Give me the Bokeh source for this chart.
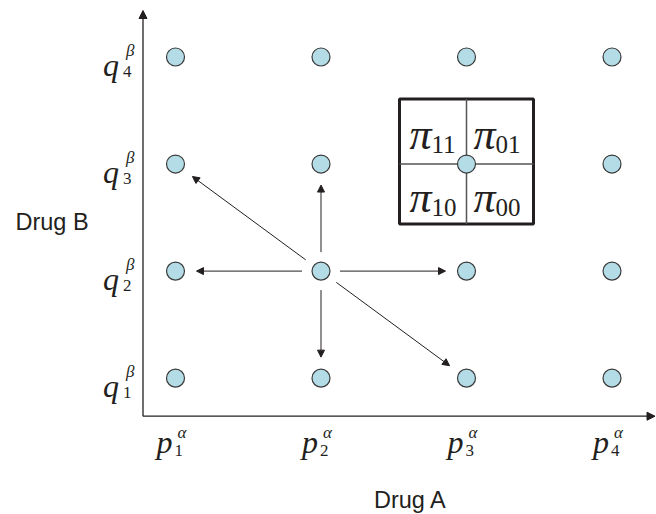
import math
from bokeh.plotting import figure
from bokeh.models import Arrow, NormalHead, Range1d, ColumnDataSource
from bokeh.core.properties import value
from bokeh.embed import file_html
from bokeh.resources import INLINE

# ---------------- data ----------------
dose_a = [1, 2, 3, 4]            # p_1^alpha ... p_4^alpha  (Drug A levels)
dose_b = [1, 2, 3, 4]            # q_1^beta  ... q_4^beta   (Drug B levels)
a_index = ["1", "2", "3", "4"]
b_index = ["1", "2", "3", "4"]
current_a, current_b = 2, 2      # current dose combination (p_2, q_2)
move_a = [1, 2, 1, 3, 2, 3]      # admissible moves from current combination
move_b = [3, 3, 2, 2, 1, 1]
box_a, box_b = 3, 3              # combination shown with its 2x2 probability table
pi_subs = ["11", "01", "10", "00"]
pi_col = [0, 1, 0, 1]
pi_row = [0, 0, 1, 1]

# ---------------- layout ----------------
W, H = 656, 514
PX_X, PX_Y = 145.5, 107.05       # pixels per grid unit
X1_PX, Y4_PX = 175.0, 56.5       # pixel position of a=1 and b=4
x0 = 1 - X1_PX / PX_X
x1 = x0 + W / PX_X
y1 = 4 + Y4_PX / PX_Y
y0 = y1 - H / PX_Y
TY = -7                          # text vertical correction (px)

INK = "#231f20"
SERIF = value("Liberation Serif")
SANS = value("Liberation Sans")

p = figure(width=W, height=H, x_range=Range1d(x0, x1), y_range=Range1d(y0, y1),
           x_axis_location=None, y_axis_location=None, toolbar_location=None,
           output_backend="svg", min_border=0, outline_line_color=None,
           background_fill_color="white", border_fill_color="white")
p.grid.visible = False

# axis origin (data coords)
ax_x = x0 + 142.5 / PX_X
ax_y = y1 - 415.7 / PX_Y

# axes as arrows
p.add_layout(Arrow(x_start=ax_x, y_start=ax_y, x_end=ax_x, y_end=y1 - 10 / PX_Y,
                   line_color=INK, line_width=1.3,
                   end=NormalHead(size=8, fill_color=INK, line_color=INK, line_width=1)))
p.add_layout(Arrow(x_start=ax_x, y_start=ax_y, x_end=x1 - 1.5 / PX_X, y_end=ax_y,
                   line_color=INK, line_width=1.3,
                   end=NormalHead(size=8, fill_color=INK, line_color=INK, line_width=1)))

# move arrows
GAP_S, GAP_E = 19.0, 21.0
xs, ys, xe, ye = [], [], [], []
for ta, tb in zip(move_a, move_b):
    dxp = (ta - current_a) * PX_X
    dyp = (tb - current_b) * PX_Y
    d = math.hypot(dxp, dyp)
    ux, uy = dxp / d, dyp / d
    xs.append(current_a + ux * GAP_S / PX_X)
    ys.append(current_b + uy * GAP_S / PX_Y)
    xe.append(ta - ux * GAP_E / PX_X)
    ye.append(tb - uy * GAP_E / PX_Y)
asrc = ColumnDataSource(dict(xs=xs, ys=ys, xe=xe, ye=ye))
p.add_layout(Arrow(source=asrc, x_start="xs", y_start="ys", x_end="xe", y_end="ye",
                   line_color=INK, line_width=1,
                   end=NormalHead(size=7, fill_color=INK, line_color=INK, line_width=1)))

# probability table box around (box_a, box_b)
HW, HH = 67.0, 62.5
p.rect(x=[box_a], y=[box_b + 2.5 / PX_Y], width=2 * HW, height=2 * HH,
       width_units="screen", height_units="screen",
       fill_color="white", line_color=INK, line_width=3)
p.segment(x0=[box_a - HW / PX_X, box_a], y0=[box_b, box_b - (HH - 2.5) / PX_Y],
          x1=[box_a + HW / PX_X, box_a], y1=[box_b, box_b + (HH + 2.5) / PX_Y],
          line_color="#555555", line_width=1.5)

# pi labels
pi_x_off = [-57 + 64 * c for c in pi_col]
pi_y_off = [-23 + TY + 63 * r for r in pi_row]
p.text(x=[box_a] * 4, y=[box_b] * 4, text=["π"] * 4,
       x_offset=pi_x_off, y_offset=pi_y_off,
       text_font=SERIF, text_font_style="italic", text_font_size="44px",
       text_color=INK, text_align="left", text_baseline="alphabetic")
p.text(x=[box_a] * 4, y=[box_b] * 4, text=pi_subs,
       x_offset=[o + 22 for o in pi_x_off], y_offset=[o + 10 for o in pi_y_off],
       text_font=SERIF, text_font_size="25px",
       text_color=INK, text_align="left", text_baseline="alphabetic")

# grid of dose combinations
ga = [a for b in dose_b for a in dose_a]
gb = [b for b in dose_b for a in dose_a]
p.scatter(ga, gb, marker="circle", size=18, fill_color="#b4dce7",
          line_color="#3a3a3a", line_width=1.2)

# tick labels for Drug B: q_k^beta
n = len(dose_b)
p.text(x=[ax_x] * n, y=dose_b, text=["q"] * n, x_offset=-40, y_offset=15 + TY,
       text_font=SERIF, text_font_style="italic", text_font_size="32px",
       text_color=INK, text_baseline="alphabetic")
p.text(x=[ax_x] * n, y=dose_b, text=b_index, x_offset=-20, y_offset=21 + TY,
       text_font=SERIF, text_font_size="17px",
       text_color=INK, text_baseline="alphabetic")
p.text(x=[ax_x] * n, y=dose_b, text=["β"] * n, x_offset=-17, y_offset=0 + TY,
       text_font=SERIF, text_font_style="italic", text_font_size="17px",
       text_color=INK, text_baseline="alphabetic")

# tick labels for Drug A: p_k^alpha
m = len(dose_a)
p.text(x=dose_a, y=[ax_y] * m, text=["p"] * m, x_offset=-19, y_offset=33 + TY,
       text_font=SERIF, text_font_style="italic", text_font_size="32px",
       text_color=INK, text_baseline="alphabetic")
p.text(x=dose_a, y=[ax_y] * m, text=a_index, x_offset=-1, y_offset=41 + TY,
       text_font=SERIF, text_font_size="17px",
       text_color=INK, text_baseline="alphabetic")
p.text(x=dose_a, y=[ax_y] * m, text=["α"] * m, x_offset=2, y_offset=23 + TY,
       text_font=SERIF, text_font_style="italic", text_font_size="17px",
       text_color=INK, text_baseline="alphabetic")

# axis titles
p.text(x=[x0 + 15 / PX_X], y=[y1 - (228 + TY) / PX_Y], text=["Drug B"],
       text_font=SANS, text_font_size="23.5px", text_color=INK,
       text_align="left", text_baseline="alphabetic")
p.text(x=[x0 + 410 / PX_X], y=[y1 - (506 + TY) / PX_Y], text=["Drug A"],
       text_font=SANS, text_font_size="23.5px", text_color=INK,
       text_align="center", text_baseline="alphabetic")

open("out.html", "w").write(file_html(p, INLINE))
